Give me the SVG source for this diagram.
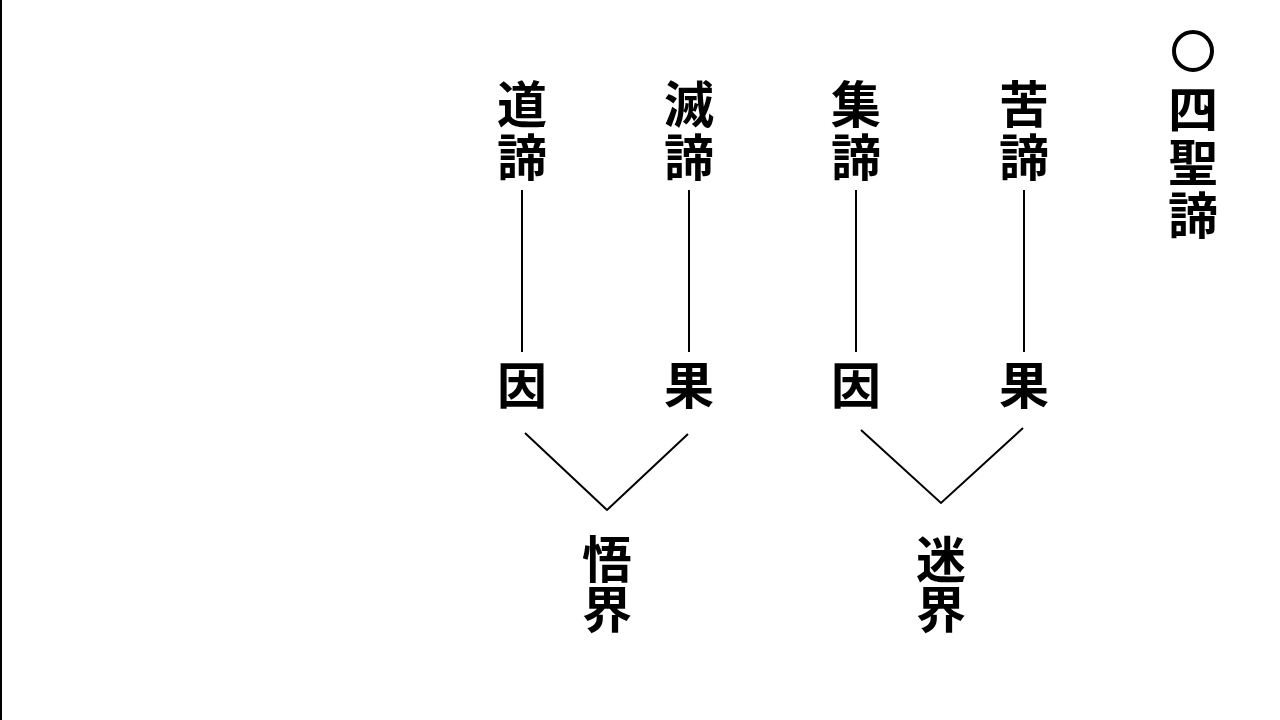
<svg xmlns="http://www.w3.org/2000/svg" width="1280" height="720" viewBox="0 0 1280 720">
<style>
.t{font-family:"Noto Sans CJK JP","Noto Sans CJK SC",sans-serif;font-weight:bold;font-size:50px;fill:#000;text-anchor:start;writing-mode:vertical-rl;letter-spacing:3px}
.b{letter-spacing:0px}
.c{stroke:#000;stroke-width:2;fill:none}
</style>
<rect width="1280" height="720" fill="#fff"/>
<line x1="1" y1="0" x2="1" y2="720" stroke="#000" stroke-width="2"/>
<g id="title">
<circle cx="1193" cy="51" r="19" fill="none" stroke="#000" stroke-width="4"/>
<text class="t" x="1193" y="84">四聖諦</text>
</g>
<g id="dotai"><text class="t" x="522" y="79">道諦</text></g>
<g id="mettai"><text class="t" x="689" y="79">滅諦</text></g>
<g id="jittai"><text class="t" x="856" y="79">集諦</text></g>
<g id="kutai"><text class="t" x="1024" y="79">苦諦</text></g>
<g id="in1"><text class="t" x="522" y="360">因</text></g>
<g id="ka1"><text class="t" x="689" y="360">果</text></g>
<g id="in2"><text class="t" x="856" y="360">因</text></g>
<g id="ka2"><text class="t" x="1024" y="360">果</text></g>
<g id="gokai"><text class="t b" x="607" y="534">悟界</text></g>
<g id="meikai"><text class="t b" x="941" y="534">迷界</text></g>
<g id="connectors">
<line class="c" x1="522" y1="190" x2="522" y2="352"/>
<line class="c" x1="689" y1="190" x2="689" y2="352"/>
<line class="c" x1="856" y1="190" x2="856" y2="352"/>
<line class="c" x1="1024" y1="190" x2="1024" y2="352"/>
<polyline class="c" points="525,433 607,510 688,434"/>
<polyline class="c" points="861,430 941,503 1023,428"/>
</g>
</svg>
